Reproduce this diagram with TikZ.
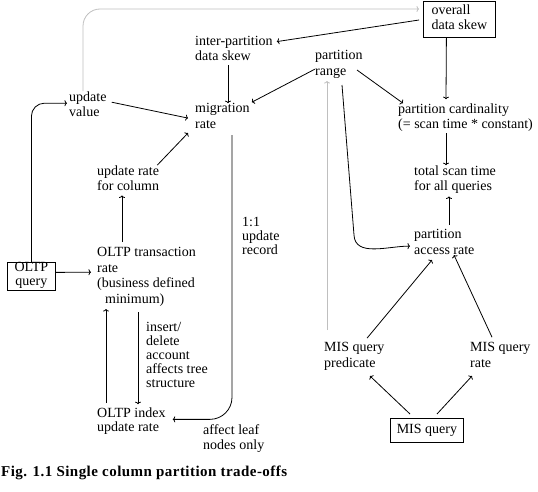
\documentclass[tikz,border=0pt]{standalone}
\usepackage{fontspec}
\setmainfont{Liberation Serif}
\newfontfamily\capfont{Liberation Serif}[LetterSpace=3]
\usetikzlibrary{arrows.meta}

\begin{document}
\begin{tikzpicture}[x=1pt,y=-1pt,
	txt/.style={anchor=north west,inner sep=0pt,align=left,font=\fontsize{14}{15.5}\selectfont,
		execute at begin node=\strut,execute at end node=\strut},
	tight/.style={font=\fontsize{14}{14}\selectfont},
	box/.style={txt,draw,line width=0.8pt},
	link/.style={line width=0.8pt,-{To[length=2.5pt,width=6pt]}},
	faint/.style={link,draw=black!25}]
			%%%%% START %%%%%
			\useasboundingbox (0,0) rectangle (538,492);
			
			\node[box,minimum width=72,minimum height=36,inner xsep=7pt] (ovsk) at (423,1) {overall\\data skew};
			\node[txt] (ipsk) at (195,35.6) {inter-partition\\data skew};
			\node[txt] (mig) at (195,103.2) {migration\\rate};
			\node[txt] (upv) at (69,91.2) {update\\value};
			\node[txt] (urc) at (97,165.2) {update rate\\for column};
			\node[txt] (prg) at (315,50.2) {partition\\range};
			\node[txt] (pcard) at (398,103.2) {partition cardinality\\(= scan time * constant)};
			\node[txt] (tscan) at (414,165.2) {total scan time\\for all queries};
			\node[txt] (pacc) at (414,229.2) {partition\\access rate};
			\node[txt] (mispred) at (324,342.2) {MIS query\\predicate};
			\node[txt] (misrate) at (470,342.2) {MIS query\\rate};
			\node[box,minimum width=73,minimum height=24,align=center] (misq) at (390,418) {MIS query};
			
			\node[box,tight,minimum width=48,minimum height=28,align=center] (oltpq) at (7,262) {OLTP\\query};
			\node[txt] (oltpt) at (97,247.2) {OLTP transaction\\rate\\(business defined\\\hspace{8pt}minimum)};
			\node[txt,tight] (oltpi) at (97,407.2) {OLTP index\\update rate};
			\node[txt,tight] (ins) at (146,322.2) {insert/\\delete\\account\\affects tree\\structure};
			\node[txt,tight] (one) at (242,217.2) {1:1\\update\\record};
			\node[txt] (leaf) at (203,424.2) {affect leaf\\nodes only};
			
			\node[anchor=base west,inner sep=0pt,font=\capfont\fontsize{15}{16}\selectfont\bfseries] (cap) at (1,476) {Fig. 1.1 Single column partition trade-offs};
			
			% skew and migration
			\draw[link,shorten <=4pt] (ovsk.west) -- ([xshift=4,yshift=-6]ipsk.north east);
			\draw[link] ([xshift=33]ipsk.south west) -- ([xshift=33]mig.north west);
			\draw[link] ([xshift=5,yshift=-11]upv.north east) -- ([xshift=-7]mig.west);
			\draw[link] ([yshift=-4]prg.west) -- ([xshift=2,yshift=1]mig.north east);
			\draw[link] ([xshift=-2]urc.north east) -- ([xshift=-7]mig.south west);
			\draw[link] ([xshift=25,yshift=5]oltpt.north west) -- ([xshift=25]urc.south west);
			\draw[faint,rounded corners=17] ([xshift=14]upv.north west) |- ([xshift=-4,yshift=-8]ovsk.north west);
			\draw[link,rounded corners=13] (oltpq.north) |- ([xshift=-2,yshift=-12]upv.north west);
			\draw[link,rounded corners=22] ([xshift=37,yshift=-2]mig.south west) |- ([xshift=7,yshift=2]oltpi.east);
			
			% OLTP side
			\draw[link] ([yshift=4]oltpq.east) -- ([xshift=-6,yshift=-25]oltpt.north west);
			\draw[link] ([xshift=9,yshift=4]oltpi.north west) -- ([xshift=9,yshift=-1]oltpt.south west);
			\draw[link] ([xshift=41,yshift=-4]oltpt.south west) -- ([xshift=41,yshift=3]oltpi.north west);
			
			% partition side
			\draw[link] ([xshift=42,yshift=10]prg.south west) -- ([xshift=5]pcard.north west);
			\draw[link] ([xshift=-13]ovsk.south) -- ([xshift=48,yshift=4]pcard.north west);
			\draw[link] ([xshift=48]pcard.south west) -- ([xshift=32]tscan.north west);
			\draw[link] ([xshift=35,yshift=4]pacc.north west) -- ([xshift=35,yshift=-1]tscan.south west);
			\draw[faint] ([xshift=3,yshift=12]mispred.north west) -- ([xshift=12,yshift=-1]prg.south west);
			\draw[link] ([xshift=27,yshift=-5]prg.south west) -- ++(12,150) to[out=-87,in=180] ([xshift=-4,yshift=-2]pacc.west);
			
			% MIS side
			\draw[link] ([xshift=43,yshift=4]mispred.north west) -- ([xshift=18,yshift=-1]pacc.south west);
			\draw[link] ([xshift=22,yshift=5]misrate.north west) -- ([xshift=40,yshift=4]pacc.south west);
			\draw[link] ([xshift=20,yshift=4]misq.north west) -- ([xshift=46,yshift=-4]mispred.south west);
			\draw[link] ([xshift=47,yshift=4]misq.north west) -- ([xshift=2,yshift=-4]misrate.south west);
			
			%%%%% END %%%%%
\end{tikzpicture}
\end{document}
